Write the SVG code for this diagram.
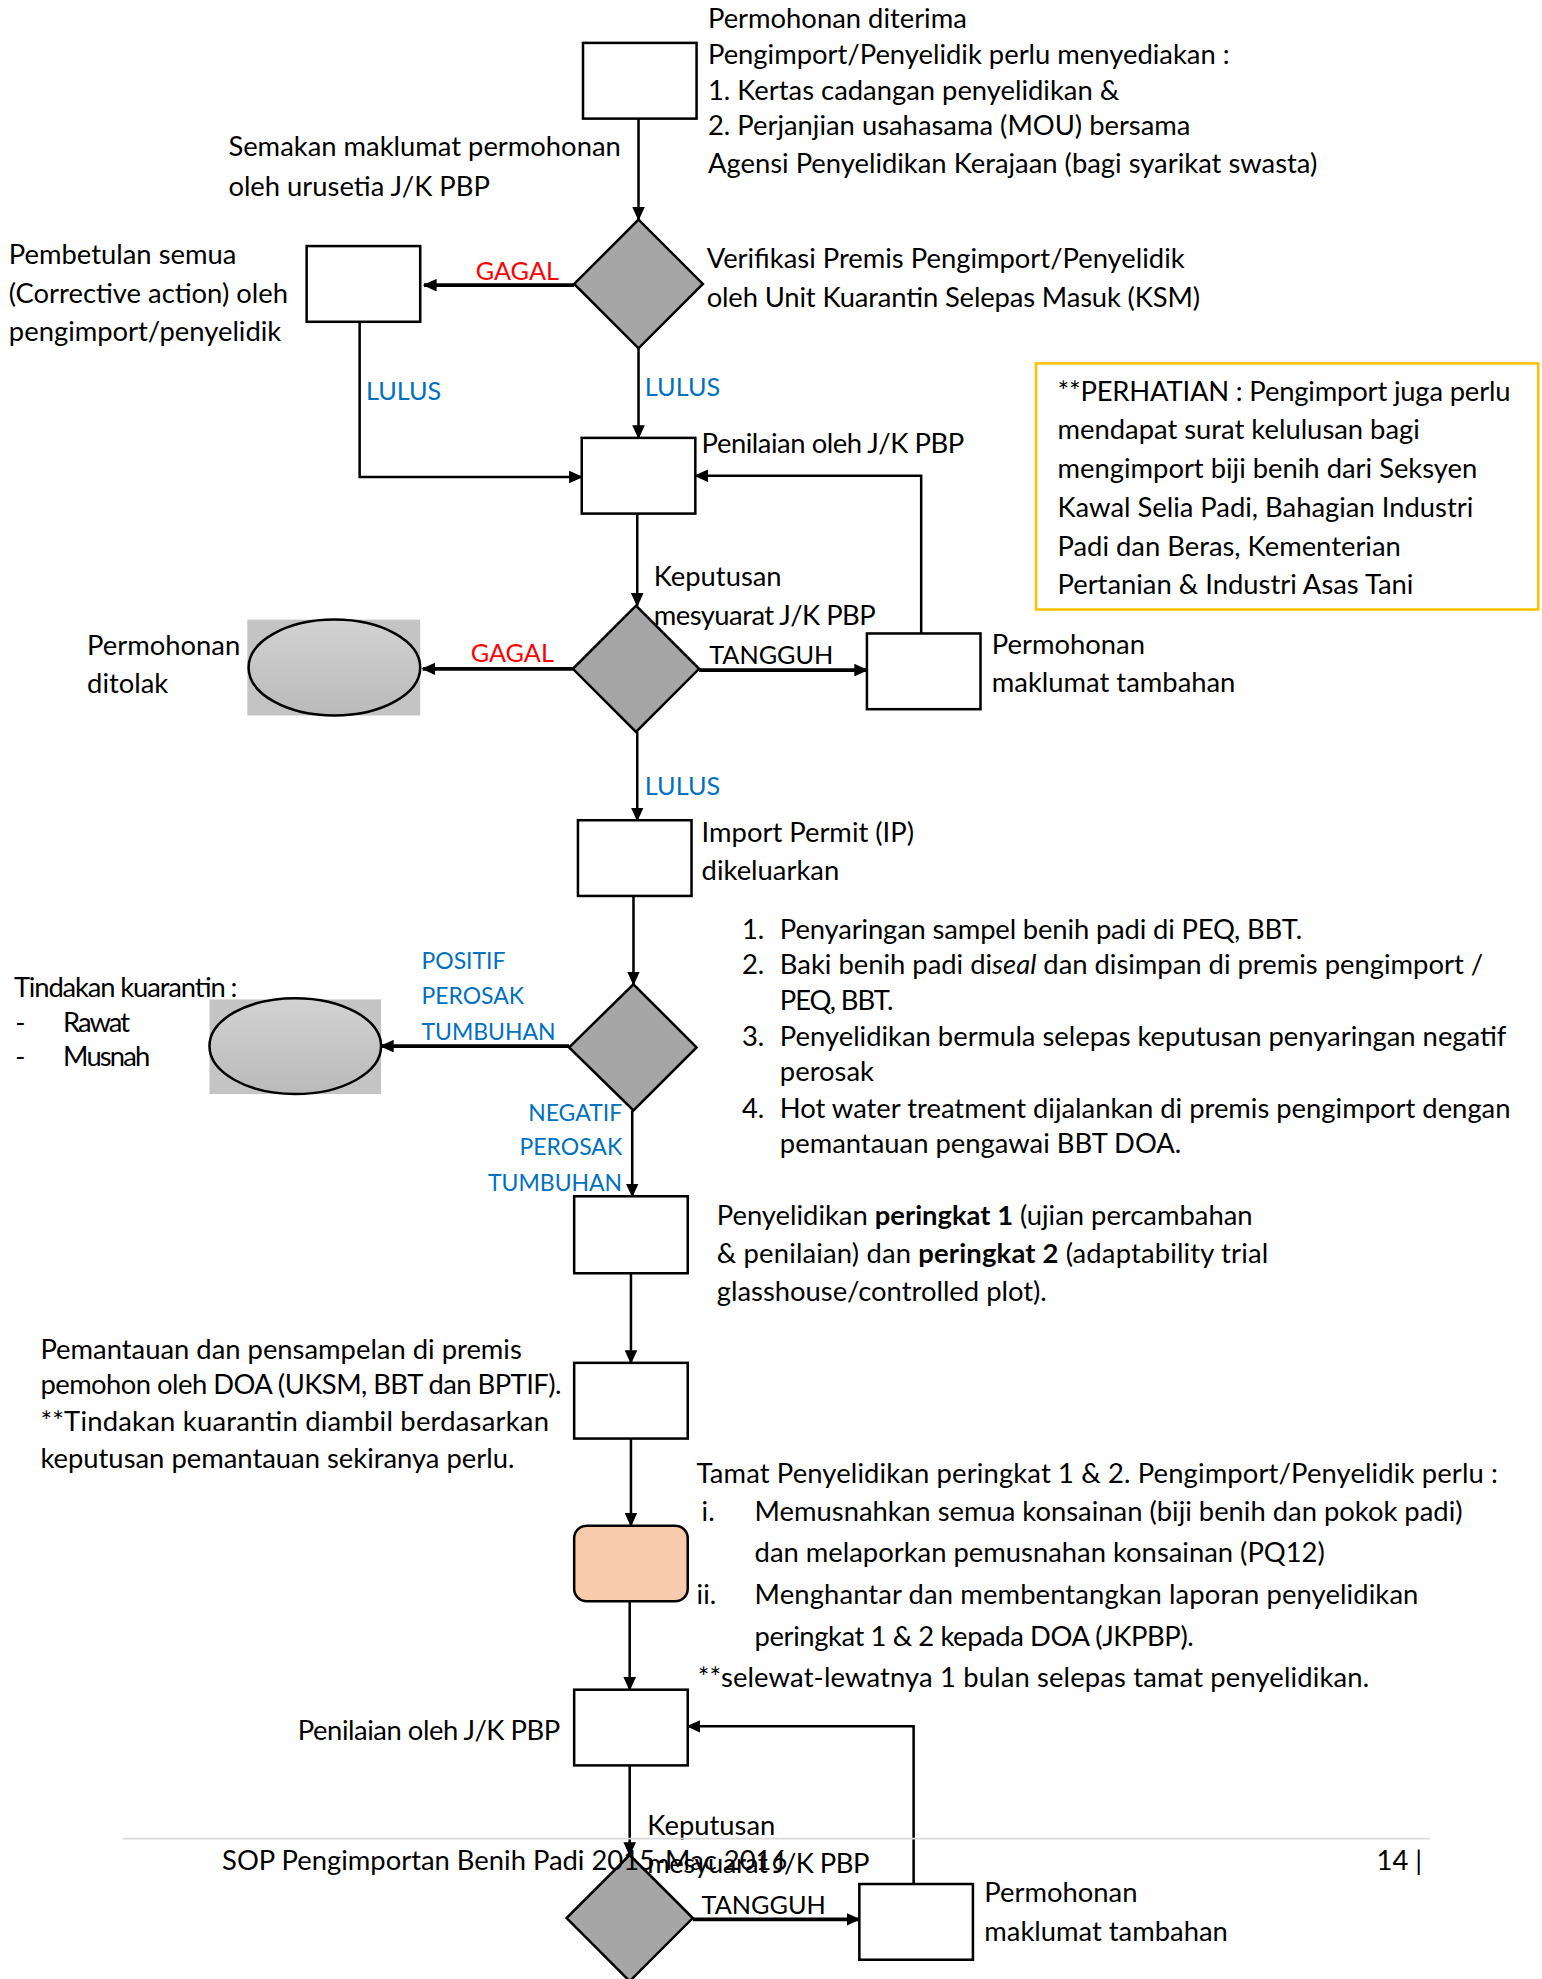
<svg xmlns="http://www.w3.org/2000/svg" width="1542" height="1979" viewBox="0 0 1542 1979">
<style>
text{font-family:Lato,"Liberation Sans",sans-serif;font-size:21.7px;fill:#000}
.red{fill:#ff0000}
.blue{fill:#0070c0}
.cap{font-size:20px}
.sm{font-size:18.2px}
.box{fill:#fff;stroke:#000;stroke-width:2}
.dia{fill:#a6a6a6;stroke:#000;stroke-width:2}
.ell{fill:url(#eg);stroke:#000;stroke-width:2}
.bg{fill:#c4c4c4}
.ar{fill:none;stroke:#000;stroke-width:2;marker-end:url(#ah)}
.arh{fill:none;stroke:#000;stroke-width:3;marker-end:url(#ah)}
.b{font-weight:bold}
</style>
<defs>
<marker id="ah" markerUnits="userSpaceOnUse" markerWidth="11" markerHeight="10" refX="10" refY="5" orient="auto">
<path d="M0,0 L11,5 L0,10 z" fill="#000"/>
</marker>
<linearGradient id="eg" x1="0" y1="0" x2="0" y2="1">
<stop offset="0" stop-color="#d2d2d2"/>
<stop offset="1" stop-color="#bababa"/>
</linearGradient>
</defs>
<rect width="1542" height="1979" fill="#fff"/>
<g transform="scale(1.2619)">
<g id="connectors">
<path class="ar" d="M506,94 V174"/>
<path class="arh" d="M455,226 H336"/>
<path class="ar" d="M285,255 V378 H461"/>
<path class="ar" d="M506,276 V347"/>
<path class="ar" d="M730,502 V377 H551"/>
<path class="ar" d="M505,407 V480"/>
<path class="arh" d="M454,530 H335"/>
<path class="arh" d="M554,531 H687"/>
<path class="ar" d="M505,580 V650"/>
<path class="ar" d="M502,710 V780"/>
<path class="arh" d="M451,829 H302"/>
<path class="ar" d="M501,880 V948"/>
<path class="ar" d="M500,1009 V1080"/>
<path class="ar" d="M500,1140 V1209"/>
<path class="ar" d="M499,1269 V1339"/>
<path class="ar" d="M724,1493 V1368 H545"/>
<path class="ar" d="M499,1399 V1470"/>
<path class="arh" d="M549,1521 H681"/>
</g>
<g id="n-permohonan-diterima">
<rect class="box" x="462" y="34" width="90" height="60"/>
<text x="561" y="22">Permohonan diterima</text>
<text x="561" y="51">Pengimport/Penyelidik perlu menyediakan :</text>
<text x="561" y="79">1. Kertas cadangan penyelidikan &amp;</text>
<text x="561" y="107">2. Perjanjian usahasama (MOU) bersama</text>
<text x="561" y="137">Agensi Penyelidikan Kerajaan (bagi syarikat swasta)</text>
</g>
<g id="lbl-semakan">
<text x="181" y="124">Semakan maklumat permohonan</text>
<text x="181" y="155">oleh urusetia J/K PBP</text>
</g>
<g id="n-verifikasi">
<polygon class="dia" points="506,174 557,225 506,276 455,225"/>
<text x="560" y="212">Verifikasi Premis Pengimport/Penyelidik</text>
<text x="560" y="243" textLength="391">oleh Unit Kuarantin Selepas Masuk (KSM)</text>
</g>
<g id="n-pembetulan">
<rect class="box" x="243" y="195" width="90" height="60"/>
<text x="7" y="209">Pembetulan semua</text>
<text x="7" y="240">(Corrective action) oleh</text>
<text x="7" y="270">pengimport/penyelidik</text>
</g>
<g id="edge-labels-1">
<text class="red cap" x="377" y="222">GAGAL</text>
<text class="blue cap" x="290" y="317">LULUS</text>
<text class="blue cap" x="511" y="314">LULUS</text>
</g>
<g id="n-penilaian-1">
<rect class="box" x="461" y="347" width="90" height="60"/>
<text x="556" y="359" textLength="208">Penilaian oleh J/K PBP</text>
</g>
<g id="n-perhatian">
<rect x="821" y="288" width="398" height="195" fill="#fff" stroke="#ffc000" stroke-width="2"/>
<text x="838" y="318" textLength="359">**PERHATIAN : Pengimport juga perlu</text>
<text x="838" y="348">mendapat surat kelulusan bagi</text>
<text x="838" y="379">mengimport biji benih dari Seksyen</text>
<text x="838" y="410">Kawal Selia Padi, Bahagian Industri</text>
<text x="838" y="441">Padi dan Beras, Kementerian</text>
<text x="838" y="471">Pertanian &amp; Industri Asas Tani</text>
</g>
<g id="n-keputusan-1">
<polygon class="dia" points="504,480 554,530 504,580 454,530"/>
<text x="518" y="464">Keputusan</text>
<text x="518" y="495" textLength="176">mesyuarat J/K PBP</text>
</g>
<g id="n-ditolak">
<rect class="bg" x="196" y="491" width="137" height="76"/>
<ellipse class="ell" cx="265" cy="529" rx="68" ry="38"/>
<text x="69" y="519">Permohonan</text>
<text x="69" y="549">ditolak</text>
</g>
<g id="n-tambahan-1">
<rect class="box" x="687" y="502" width="90" height="60"/>
<text x="786" y="518">Permohonan</text>
<text x="786" y="548">maklumat tambahan</text>
</g>
<g id="edge-labels-2">
<text class="red cap" x="373" y="525">GAGAL</text>
<text class="cap" x="562" y="526">TANGGUH</text>
<text class="blue cap" x="511" y="630">LULUS</text>
</g>
<g id="n-import-permit">
<rect class="box" x="458" y="650" width="90" height="60"/>
<text x="556" y="667">Import Permit (IP)</text>
<text x="556" y="697">dikeluarkan</text>
</g>
<g id="lbl-saringan">
<text x="588" y="744">1.</text><text x="618" y="744" textLength="414">Penyaringan sampel benih padi di PEQ, BBT.</text>
<text x="588" y="772">2.</text><text x="618" y="772">Baki benih padi di<tspan font-style="italic">seal</tspan> dan disimpan di premis pengimport /</text>
<text x="618" y="800" textLength="90">PEQ, BBT.</text>
<text x="588" y="829">3.</text><text x="618" y="829">Penyelidikan bermula selepas keputusan penyaringan negatif</text>
<text x="618" y="857">perosak</text>
<text x="588" y="886">4.</text><text x="618" y="886">Hot water treatment dijalankan di premis pengimport dengan</text>
<text x="618" y="914">pemantauan pengawai BBT DOA.</text>
</g>
<g id="n-saringan">
<polygon class="dia" points="502,780 552,830 502,880 451,830"/>
</g>
<g id="n-kuarantin">
<rect class="bg" x="166" y="792" width="136" height="75"/>
<ellipse class="ell" cx="234" cy="829" rx="68" ry="38"/>
<text x="11" y="790" textLength="177">Tindakan kuarantin :</text>
<text x="12" y="818">-</text><text x="50" y="818" textLength="53">Rawat</text>
<text x="12" y="845">-</text><text x="50" y="845" textLength="69">Musnah</text>
</g>
<g id="edge-labels-3">
<text class="blue sm" x="334" y="768">POSITIF</text>
<text class="blue sm" x="334" y="796">PEROSAK</text>
<text class="blue sm" x="334" y="824">TUMBUHAN</text>
<text class="blue sm" x="493" y="888" text-anchor="end">NEGATIF</text>
<text class="blue sm" x="493" y="915" text-anchor="end">PEROSAK</text>
<text class="blue sm" x="493" y="944" text-anchor="end">TUMBUHAN</text>
</g>
<g id="n-penyelidikan">
<rect class="box" x="455" y="948" width="90" height="61"/>
<text x="568" y="971">Penyelidikan <tspan class="b">peringkat 1</tspan> (ujian percambahan</text>
<text x="568" y="1001" textLength="437">&amp; penilaian) dan <tspan class="b">peringkat 2</tspan> (adaptability trial</text>
<text x="568" y="1031">glasshouse/controlled plot).</text>
</g>
<g id="n-pemantauan">
<rect class="box" x="455" y="1080" width="90" height="60"/>
<text x="32" y="1077">Pemantauan dan pensampelan di premis</text>
<text x="32" y="1105" textLength="413">pemohon oleh DOA (UKSM, BBT dan BPTIF).</text>
<text x="32" y="1134" textLength="403">**Tindakan kuarantin diambil berdasarkan</text>
<text x="32" y="1163">keputusan pemantauan sekiranya perlu.</text>
</g>
<g id="n-tamat">
<rect x="455" y="1209" width="90" height="60" rx="10" fill="#f8cbad" stroke="#000" stroke-width="2"/>
<text x="552" y="1175" textLength="635">Tamat Penyelidikan peringkat 1 &amp; 2. Pengimport/Penyelidik perlu  :</text>
<text x="556" y="1205">i.</text><text x="598" y="1205">Memusnahkan semua konsainan (biji benih dan pokok padi)</text>
<text x="598" y="1238">dan melaporkan pemusnahan konsainan (PQ12)</text>
<text x="552" y="1271">ii.</text><text x="598" y="1271" textLength="526">Menghantar dan membentangkan laporan penyelidikan</text>
<text x="598" y="1304" textLength="348">peringkat 1 &amp; 2 kepada DOA (JKPBP).</text>
<text x="553" y="1337" textLength="532">**selewat-lewatnya 1 bulan selepas tamat penyelidikan.</text>
</g>
<g id="n-penilaian-2">
<rect class="box" x="455" y="1339" width="90" height="60"/>
<text x="236" y="1379" textLength="208">Penilaian oleh J/K PBP</text>
</g>
<g id="n-keputusan-2">
<polygon class="dia" points="499,1470 549,1520 499,1570 449,1520"/>
<text x="513" y="1454">Keputusan</text>
<text x="513" y="1484" textLength="176">mesyuarat J/K PBP</text>
</g>
<g id="n-tambahan-2">
<rect class="box" x="681" y="1493" width="90" height="60"/>
<text x="780" y="1507">Permohonan</text>
<text x="780" y="1538">maklumat tambahan</text>
<text class="cap" x="556" y="1517">TANGGUH</text>
</g>
<g id="footer">
<line x1="97" y1="1457" x2="1133" y2="1457" stroke="#d9d9d9" stroke-width="1.5"/>
<text x="176" y="1482">SOP Pengimportan Benih Padi 2015-Mac 2016</text>
<text x="1127" y="1482" text-anchor="end">14 |</text>
</g>
</g>
</svg>
